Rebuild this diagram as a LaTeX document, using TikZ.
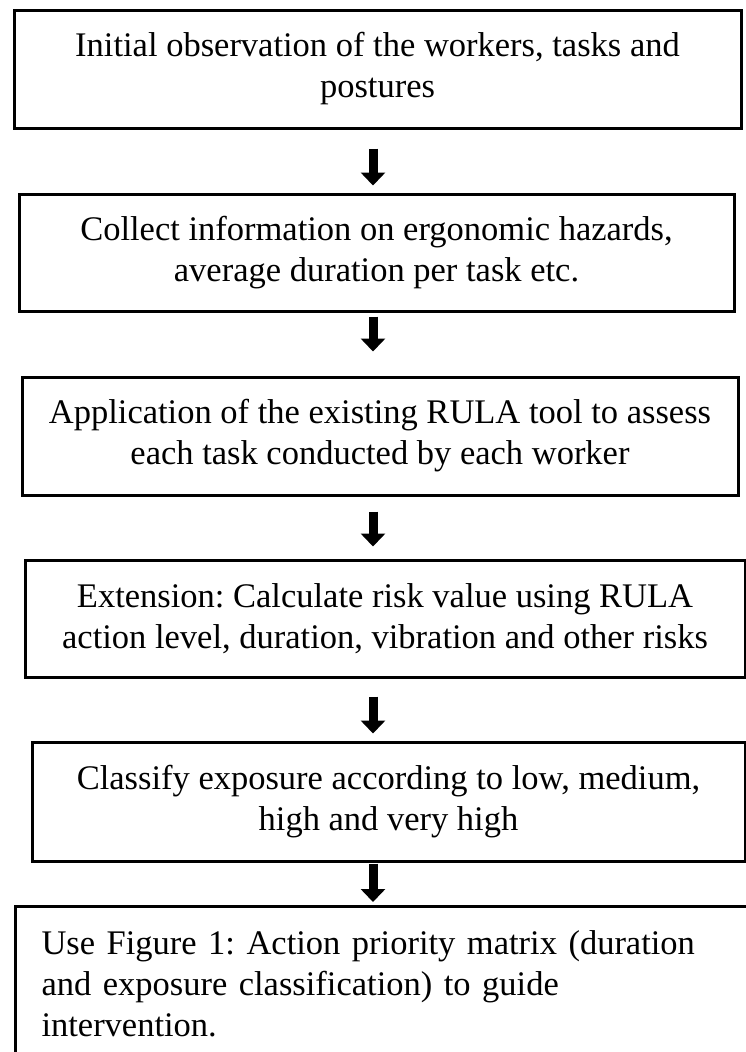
\documentclass[tikz,border=0pt]{standalone}
\usepackage{fontspec}
\setmainfont{Liberation Serif}
\usetikzlibrary{arrows.meta}

\tikzset{
  stepbox/.style={draw, line width=3pt, align=center, inner sep=0pt,
    font=\fontsize{34.5}{41}\selectfont\frenchspacing},
  flow/.style={line width=9pt, -{Triangle[width=24pt,length=13pt]}}
}

\begin{document}
\begin{tikzpicture}[x=1pt,y=1pt]

\useasboundingbox (0,0) rectangle (746,-1052);

\coordinate (ax) at (373,0);

\node [stepbox, minimum width=727pt, minimum height=118pt] (observe) at (377.5,-69)
  {Initial observation of the workers, tasks and\\postures};
\node [stepbox, minimum width=715pt, minimum height=117pt] (collect) at (376.5,-252.5)
  {Collect information on ergonomic hazards,\\average duration per task etc.};
\node [stepbox, minimum width=716pt, minimum height=118pt] (rula) at (380,-436)
  {Application of the existing RULA tool to assess\\each task conducted by each worker};
\node [stepbox, minimum width=720pt, minimum height=117pt] (extend) at (385,-618.5)
  {Extension: Calculate risk value using RULA\\action level, duration, vibration and other risks};
\node [stepbox, minimum width=713pt, minimum height=119pt] (classify) at (388.5,-801.5)
  {Classify exposure according to low, medium,\\high and very high};
\node [stepbox, anchor=north west, align=left, text width=700pt,
  inner xsep=26pt, inner ysep=24pt] (matrix) at (14,-905)
  {Use Figure 1: Action priority matrix (duration\\and exposure classification) to guide\\intervention.};

\draw [flow, shorten <=19pt, shorten >=7pt] (observe.south -| ax) -- (collect.north -| ax);
\draw [flow, shorten <=4pt, shorten >=24pt] (collect.south -| ax) -- (rula.north -| ax);
\draw [flow, shorten <=15pt, shorten >=12pt] (rula.south -| ax) -- (extend.north -| ax);
\draw [flow, shorten <=18pt, shorten >=7pt] (extend.south -| ax) -- (classify.north -| ax);
\draw [flow, shorten <=1pt, shorten >=3pt] (classify.south -| ax) -- (matrix.north -| ax);

\end{tikzpicture}
\end{document}
